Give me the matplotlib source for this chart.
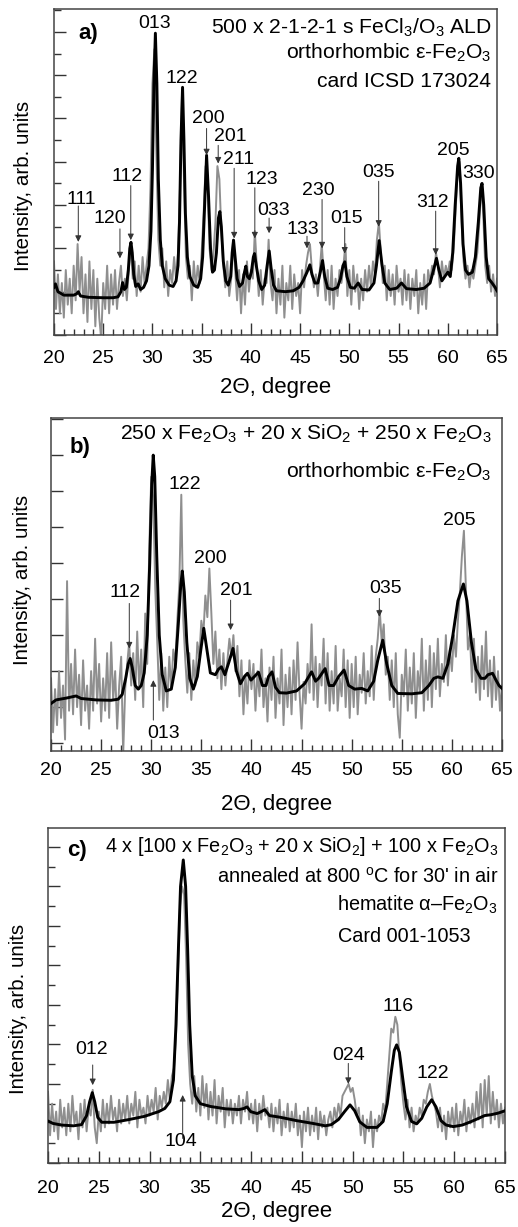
import numpy as np
import matplotlib.pyplot as plt

plt.rcParams['font.family'] = ['Liberation Sans', 'DejaVu Sans']
plt.rcParams['mathtext.fontset'] = 'custom'
plt.rcParams['mathtext.rm'] = 'Liberation Sans'
plt.rcParams['mathtext.it'] = 'Liberation Sans'
plt.rcParams['mathtext.bf'] = 'Liberation Sans:bold'

# scan grid, 2theta in degrees (0.2 deg step)
two_theta = np.round(np.arange(20, 65.01, 0.2), 1)

# ---- a) 500 x 2-1-2-1 s FeCl3/O3 ALD ----
raw_a = [1.7, 0.6, 1.4, 0.5, 1.2, 0.4, 1.5, 0.7, 1.3, 0.5,
         1.6, 0.8, 2.1, 1.0, 1.8, 0.5, 1.4, 0.3, 1.7, 0.6,
         1.5, 0.2, 1.3, 0.4, -0.1, 1.2, 0.6, 1.6, 0.5, 1.4,
         0.7, 1.5, 0.6, 1.2, 1.6, 0.9, 1.3, 0.8, 1.5, 2.1,
         1.3, 1.7, 0.9, 1.6, 1.0, 1.8, 1.2, 1.6, 2.0, 3.4,
         5.8, 6.6, 4.2, 2.2, 1.6, 2.0, 1.1, 1.7, 0.9, 1.5,
         1.2, 1.8, 1.3, 1.9, 3.4, 5.5, 3.6, 1.8, 1.3, 1.6,
         0.8, 1.7, 1.1, 1.6, 1.2, 1.9, 2.8, 3.9, 3.5, 2.0,
         1.5, 1.9, 2.6, 3.9, 3.6, 2.4, 1.6, 1.1, 1.7, 0.9,
         1.3, 2.2, 1.5, 0.8, 1.5, 0.5, 1.4, 0.7, 1.7, 1.0,
         1.5, 1.3, 2.4, 1.6, 0.9, 1.5, 0.7, 1.3, 1.2, 2.2,
         1.2, 0.8, 1.5, 0.5, 1.3, 0.7, 1.6, 0.4, 1.2, 0.8,
         1.6, 0.6, 1.4, 0.9, 1.2, 0.5, 1.5, 1.1, 1.6, 1.9,
         2.1, 1.5, 1.1, 1.4, 0.9, 1.5, 2.1, 1.4, 0.8, 1.5,
         0.7, 1.6, 0.6, 1.3, 0.9, 1.5, 1.2, 1.6, 2.1, 0.9,
         1.5, 0.7, 1.6, 1.0, 1.4, 0.6, 1.3, 0.8, 1.5, 1.0,
         1.6, 1.1, 1.7, 1.4, 2.2, 2.6, 1.9, 1.2, 1.6, 0.8,
         1.5, 0.9, 1.4, 0.7, 1.6, 1.0, 1.3, 0.7, 1.5, 0.8,
         1.4, 0.6, 1.3, 0.9, 1.5, 0.5, 1.2, 0.7, 1.4, 0.6,
         1.5, 1.2, 1.6, 1.4, 1.9, 1.6, 1.1, 1.7, 1.3, 1.6,
         1.4, 1.7, 1.5, 2.0, 2.9, 3.8, 4.0, 2.6, 1.7, 1.3,
         1.6, 1.1, 1.5, 1.3, 1.6, 1.9, 2.6, 3.5, 2.8, 1.6,
         1.2, 1.6, 1.0, 1.4, 0.9, 1.3]
fit_a_x = [20.0, 20.15, 20.4, 21.0, 22.0, 22.3, 22.47, 22.7, 23.5, 25.0, 26.0, 26.5,
           26.8, 26.97, 27.15, 27.35, 27.55, 27.7, 27.82, 27.95, 28.1, 28.3, 28.55, 28.8,
           29.1, 29.4, 29.65, 29.85, 30.0, 30.15, 30.3, 30.45, 30.6, 30.8, 31.0, 31.3,
           31.7, 32.1, 32.4, 32.6, 32.75, 32.9, 33.06, 33.2, 33.35, 33.55, 33.8, 34.2,
           34.6, 34.9, 35.1, 35.3, 35.5, 35.7, 35.9, 36.1, 36.3, 36.5, 36.7, 36.85,
           37.0, 37.2, 37.45, 37.7, 37.95, 38.1, 38.24, 38.4, 38.6, 38.85, 39.15, 39.35,
           39.49, 39.65, 39.85, 40.05, 40.25, 40.37, 40.55, 40.8, 41.1, 41.4, 41.65, 41.86,
           42.05, 42.3, 42.6, 43.5, 44.3, 44.9, 45.3, 45.7, 45.99, 46.2, 46.5, 46.8,
           47.05, 47.28, 47.5, 47.8, 48.3, 48.8, 49.1, 49.35, 49.54, 49.75, 50.1, 50.5,
           50.9, 51.3, 52.0, 52.5, 52.75, 53.03, 53.3, 53.6, 54.1, 54.8, 55.3, 55.8,
           56.8, 57.6, 58.2, 58.55, 58.85, 59.1, 59.4, 59.7, 60.0, 60.25, 60.5, 60.75,
           61.0, 61.12, 61.3, 61.55, 61.8, 62.1, 62.5, 62.8, 63.1, 63.35, 63.48, 63.65,
           63.9, 64.15, 64.5, 64.8, 65.0]
fit_a_y = [1.10, 1.18, 1.0, 0.92, 0.92, 0.95, 1.0, 0.9, 0.87, 0.86, 0.86, 0.88,
           1.0, 1.21, 1.05, 1.1, 1.5, 2.0, 2.14, 1.9, 1.4, 1.12, 1.18, 1.05,
           1.1, 1.25, 1.6, 2.4, 3.8, 5.8, 6.97, 5.8, 3.6, 2.2, 1.6, 1.3,
           1.15, 1.12, 1.25, 1.6, 2.6, 4.5, 5.72, 4.5, 2.8, 1.8, 1.35, 1.15,
           1.1, 1.3, 1.8, 3.0, 4.15, 3.2, 2.0, 1.45, 1.5, 1.9, 2.7, 2.85,
           2.5, 1.7, 1.25, 1.15, 1.35, 1.9, 2.19, 1.8, 1.3, 1.12, 1.2, 1.45,
           1.59, 1.35, 1.3, 1.45, 1.8, 1.88, 1.6, 1.25, 1.05, 1.15, 1.6, 1.94,
           1.55, 1.15, 1.02, 1.0, 1.02, 1.1, 1.25, 1.45, 1.62, 1.4, 1.2, 1.2,
           1.45, 1.72, 1.35, 1.08, 1.05, 1.1, 1.3, 1.6, 1.69, 1.35, 1.1, 1.08,
           1.2, 1.05, 1.04, 1.2, 1.6, 2.18, 1.65, 1.2, 1.05, 1.08, 1.2, 1.07,
           1.05, 1.08, 1.2, 1.5, 1.77, 1.5, 1.25, 1.35, 1.45, 1.35, 1.9, 3.0,
           3.9, 4.08, 3.5, 2.1, 1.5, 1.4, 1.45, 1.8, 2.6, 3.4, 3.5, 3.0,
           1.8, 1.3, 1.2, 1.1, 1.02]

# ---- b) 250 x Fe2O3 + 20 x SiO2 + 250 x Fe2O3 ----
raw_b = [1.8, 0.3, 1.5, 0.5, 2.0, 0.7, 1.6, 0.1, 4.5, 0.9,
         2.2, 0.8, 2.6, 1.0, 1.9, 0.5, 2.3, 0.9, 1.6, 0.4,
         2.0, 0.9, 2.9, 1.1, 2.2, 0.6, 1.8, 0.9, 2.5, 0.7,
         2.8, 1.2, 2.0, 0.4, 1.6, 2.4, -0.3, 1.5, 2.2, 2.8,
         1.6, 2.5, 1.2, 3.1, 1.5, 2.6, 1.0, 3.6, 2.2, 5.4,
         7.4, 6.8, 4.3, 2.8, 1.2, 2.5, 0.9, 2.1, 1.0, 2.4,
         1.5, 2.6, 2.2, 3.4, 4.4, 6.9, 3.4, 2.3, 1.4, 2.5,
         1.2, 2.3, 1.6, 2.8, 2.4, 3.4, 3.0, 4.1, 3.5, 4.85,
         3.6, 2.2, 3.1, 1.8, 2.6, 1.5, 2.5, 1.6, 2.3, 2.9,
         2.4, 3.0, 2.0, 2.7, 1.3, 2.3, 0.8, 1.9, 1.1, 2.3,
         1.5, 2.2, 0.9, 2.0, 1.3, 2.6, 1.0, 1.8, 0.6, 2.1,
         1.2, 2.4, 0.7, 1.8, 1.1, 2.6, 0.5, 1.9, 1.0, 2.1,
         0.8, 2.3, 1.2, 2.8, 1.4, 0.4, 1.7, 1.1, 2.2, 1.4,
         3.3, 1.2, 2.4, 1.0, 2.2, 1.6, 2.9, 1.1, 2.5, 0.9,
         2.0, 1.1, 2.7, 0.9, 1.8, 1.3, 2.6, 1.0, 2.3, 0.7,
         2.2, 1.0, 2.4, 0.8, 1.9, 1.4, 2.5, 1.1, 2.0, 1.3,
         2.7, 1.2, 2.4, 2.9, 3.7, 2.8, 3.3, 1.9, 2.4, 1.2,
         2.3, 1.0, 2.5, 0.8, 0.15, 1.9, 1.3, 2.6, 0.9, 2.1,
         1.1, 2.5, 0.7, 2.0, 1.4, 2.9, 0.9, 2.3, 1.2, 2.7,
         1.0, 2.5, 1.5, 2.9, 1.3, 2.2, 1.7, 3.0, 1.6, 2.6,
         2.0, 3.0, 2.4, 3.4, 4.2, 5.2, 5.9, 4.3, 2.6, 3.0,
         1.7, 2.9, 1.4, 2.4, 1.2, 2.7, 1.5, 3.1, 1.3, 2.3,
         1.0, 2.4, 1.2, 2.0, 0.9, 1.6]
fit_b_x = [20.0, 20.5, 21.5, 22.5, 23.0, 24.5, 26.0, 26.7, 27.1, 27.45, 27.7, 27.9,
           28.1, 28.4, 28.7, 29.0, 29.3, 29.6, 29.85, 30.05, 30.2, 30.35, 30.55, 30.8,
           31.1, 31.5, 32.0, 32.4, 32.7, 32.95, 33.1, 33.3, 33.55, 33.85, 34.2, 34.6,
           34.95, 35.24, 35.5, 35.9, 36.4, 36.7, 37.0, 37.35, 37.75, 38.16, 38.5, 38.9,
           39.3, 39.6, 39.95, 40.3, 40.7, 41.1, 41.45, 41.7, 42.05, 42.4, 42.8, 43.5,
           44.5, 45.3, 46.0, 46.4, 46.7, 47.35, 47.75, 48.2, 48.7, 49.24, 49.7, 50.3,
           51.0, 51.6, 52.2, 52.6, 53.1, 53.5, 54.0, 54.6, 56.0, 57.0, 57.7, 58.2,
           58.6, 59.1, 59.6, 60.1, 60.6, 61.15, 61.5, 61.95, 62.4, 62.9, 63.3, 63.6,
           64.06, 64.4, 64.7, 65.0]
fit_b_y = [1.10, 1.2, 1.25, 1.31, 1.24, 1.2, 1.19, 1.22, 1.35, 1.8, 2.2, 2.35,
           2.1, 1.6, 1.5, 1.6, 1.95, 3.0, 5.0, 7.2, 8.0, 7.4, 5.2, 3.0,
           1.9, 1.45, 1.5, 2.1, 3.3, 4.4, 4.78, 4.2, 2.8, 1.8, 1.5, 1.85,
           2.6, 3.19, 2.7, 1.95, 1.9, 2.05, 2.12, 1.9, 2.25, 2.63, 2.0, 1.65,
           1.85, 1.94, 1.75, 1.85, 1.97, 1.6, 1.6, 1.85, 1.98, 1.55, 1.4, 1.39,
           1.45, 1.65, 1.98, 1.72, 1.8, 2.07, 1.6, 1.6, 1.85, 2.03, 1.6, 1.5,
           1.52, 1.45, 1.72, 2.3, 2.86, 2.2, 1.6, 1.38, 1.37, 1.4, 1.6, 1.8,
           1.84, 1.8, 2.2, 3.0, 3.95, 4.42, 3.95, 2.8, 2.05, 1.8, 1.8, 1.9,
           1.94, 1.75, 1.6, 1.52]

# ---- c) 4 x [100 x Fe2O3 + 20 x SiO2] + 100 x Fe2O3, annealed ----
raw_c = [1.8, 0.7, 1.5, 0.8, 1.3, 0.6, 1.6, 0.9, 1.4, 0.7,
         1.5, 0.8, 1.7, 1.0, 1.3, 0.6, 1.5, 0.9, 1.6, 0.8,
         1.4, 1.2, 1.85, 0.9, 0.5, 1.3, 0.8, 1.6, 0.9, 1.5,
         1.0, 1.7, 1.1, 1.4, 0.8, 1.6, 1.0, 1.5, 1.1, 1.7,
         1.0, 1.5, 1.2, 1.8, 0.9, 1.6, 1.2, 1.4, 1.0, 1.7,
         1.2, 1.6, 1.3, 1.9, 1.1, 1.7, 1.4, 1.8, 1.5, 2.1,
         1.6, 2.2, 2.4, 3.2, 4.8, 6.5, 7.0, 6.8, 5.2, 3.0,
         2.0, 1.5, 2.2, 1.3, 1.9, 1.2, 2.2, 1.4, 2.0, 1.1,
         1.8, 1.2, 2.1, 1.0, 1.7, 1.3, 1.9, 0.9, 1.6, 1.2,
         1.6, 1.0, 1.5, 1.2, 1.7, 1.0, 1.6, 1.3, 1.8, 1.1,
         1.5, 1.0, 1.6, 0.8, 1.5, 1.1, 1.7, 1.2, 1.4, 0.9,
         1.5, 0.8, 1.4, 1.0, 1.6, 0.7, 1.3, 0.9, 1.5, 0.8,
         1.3, 0.9, 1.5, 0.7, 1.2, 0.4, 1.3, 0.8, 1.4, 0.7,
         1.2, 0.8, 1.4, 0.6, 1.3, 0.9, 1.2, 0.7, 1.1, 1.3,
         0.9, 1.4, 1.1, 1.5, 1.2, 1.7, 1.8, 1.9, 2.0, 1.8,
         1.9, 1.6, 1.2, 1.4, 0.7, 1.2, 0.5, 1.1, 0.8, 1.3,
         0.4, 1.1, 0.8, 1.2, 1.0, 1.5, 1.3, 2.0, 2.7, 3.4,
         3.3, 3.7, 3.5, 2.7, 2.0, 1.5, 1.1, 1.6, 0.9, 1.4,
         0.8, 1.2, 1.0, 1.4, 1.2, 1.6, 1.5, 1.8, 2.0, 1.7,
         1.5, 1.3, 0.9, 1.4, 0.8, 1.2, 0.6, 1.3, 0.9, 1.4,
         0.8, 1.5, 0.7, 1.3, 1.0, 1.6, 0.8, 1.4, 1.0, 1.5,
         0.9, 1.8, 1.1, 2.0, 0.9, 2.1, 1.2, 2.2, 1.0, 1.8,
         1.1, 1.6, 0.9, 1.5, 1.0, 1.4]
fit_c_x = [20.0, 20.5, 21.3, 22.5, 23.3, 23.8, 24.1, 24.36, 24.6, 24.9, 25.3, 26.5,
           28.0, 29.5, 30.9, 31.5, 32.0, 32.35, 32.6, 32.85, 33.05, 33.32, 33.55, 33.75,
           33.95, 34.2, 34.5, 35.0, 36.0, 37.5, 38.8, 39.3, 39.6, 39.95, 40.6, 41.0,
           41.35, 41.8, 42.8, 44.5, 46.1, 47.3, 47.9, 48.6, 49.2, 49.74, 50.2, 50.7,
           51.4, 52.4, 53.0, 53.4, 53.8, 54.1, 54.33, 54.6, 54.9, 55.3, 55.8, 56.3,
           56.8, 57.3, 57.78, 58.2, 58.7, 59.2, 59.9, 60.8, 61.6, 62.4, 63.0, 63.6,
           64.3, 65.0]
fit_c_y = [1.06, 1.0, 0.96, 0.94, 0.97, 1.2, 1.55, 1.78, 1.55, 1.15, 1.03, 1.03,
           1.1, 1.18, 1.3, 1.38, 1.55, 2.1, 3.5, 5.5, 7.0, 7.67, 7.0, 5.4,
           3.5, 2.2, 1.7, 1.5, 1.43, 1.37, 1.35, 1.38, 1.42, 1.3, 1.25, 1.3,
           1.35, 1.2, 1.16, 1.07, 1.0, 0.94, 0.97, 1.1, 1.3, 1.47, 1.32, 1.04,
           0.9, 0.9, 1.05, 1.5, 2.3, 2.85, 2.99, 2.8, 2.2, 1.42, 1.05, 0.99,
           1.13, 1.42, 1.6, 1.42, 1.07, 0.96, 0.92, 0.96, 1.04, 1.13, 1.2, 1.22,
           1.26, 1.32]

# reflection labels (hkl) per panel
hkl_a = ['111', '120', '112', '013', '122', '200', '201', '211', '123',
         '033', '133', '230', '015', '035', '312', '205', '330']
hkl_b = ['112', '013', '122', '200', '201', '035', '205']
hkl_c = ['012', '104', '024', '116', '122']

# label placement: (text x, text y, arrow x, arrow start y, arrow tip y)
place_a = [(22.81, 3.13, 22.47, 2.98, 2.15), (25.65, 2.68, 26.7, 2.45, 1.77),
           (27.44, 3.66, 27.8, 3.45, 2.19), (30.18, 7.19, None, None, None),
           (33.02, 5.92, None, None, None), (35.70, 5.0, 35.5, 4.77, 4.15),
           (37.93, 4.58, 36.68, 4.38, 3.96), (38.71, 4.05, 38.3, 3.85, 2.23),
           (41.11, 3.58, 40.4, 3.4, 2.23), (42.33, 2.87, 41.85, 2.7, 2.35),
           (45.30, 2.44, 45.7, 2.28, 2.0), (46.83, 3.33, 47.23, 3.13, 2.0),
           (49.67, 2.68, 49.53, 2.48, 1.88), (52.92, 3.75, 52.98, 3.55, 2.5),
           (58.43, 3.06, 58.77, 2.86, 1.85), (60.53, 4.27, None, None, None),
           (63.1, 3.72, None, None, None)]
place_b = [(27.38, 4.18, 27.81, 3.88, 2.63), (31.21, 0.27, 30.21, 0.64, 1.75),
           (33.37, 7.19, None, None, None), (35.86, 5.13, None, None, None),
           (38.46, 4.25, 37.92, 3.97, 3.14), (53.42, 4.30, 52.76, 4.02, 3.51),
           (60.74, 6.19, None, None, None)]
place_c = [(24.3, 2.86, 24.4, 2.48, 1.97), (33.06, 0.54, 33.26, 0.62, 1.72),
           (49.6, 2.73, 49.57, 2.52, 2.0), (54.43, 3.96, None, None, None),
           (57.94, 2.27, None, None, None)]

titles_a = ['500 x 2-1-2-1 s FeCl$_3$/O$_3$ ALD',
            'orthorhombic ε-Fe$_2$O$_3$',
            'card ICSD 173024']
titles_b = ['250 x Fe$_2$O$_3$ + 20 x SiO$_2$ + 250 x Fe$_2$O$_3$',
            'orthorhombic ε-Fe$_2$O$_3$']
titles_c = ['4 x [100 x Fe$_2$O$_3$ + 20 x SiO$_2$] + 100 x Fe$_2$O$_3$',
            "annealed at 800 $^{\\mathrm{o}}$C for 30' in air",
            'hematite α–Fe$_2$O$_3$',
            'Card 001-1053']

FS = 14
fig = plt.figure(figsize=(5.18, 12.27), dpi=100)

panels = [
    # rect, raw, fit x, fit y, hkl, placement, ylim, major, minor, letter pos, tick pad, xlabel y, ylabel pos
    ([0.1042, 0.7270, 0.8553, 0.2657], raw_a, fit_a_x, fit_a_y, hkl_a, place_a,
     (0, 7.53), 1, 0.5, ('a)', 0.077, 0.925), 10.5, -0.129, (-0.047, 0.457)),
    ([0.0985, 0.3879, 0.8706, 0.2714], raw_b, fit_b_x, fit_b_y, hkl_b, place_b,
     (-0.22, 9.03), 1, None, ('b)', 0.064, 0.912), 8.0, -0.129, (-0.043, 0.514)),
    ([0.0927, 0.0522, 0.8822, 0.2730], raw_c, fit_c_x, fit_c_y, hkl_c, place_c,
     (0, 8.48), 1, 0.5, ('c)', 0.064, 0.934), 12.0, -0.113, (-0.043, 0.46)),
]

axes = []
for rect, raw, fx, fy, hkl, place, ylim, major, minor, letter, pad, xly, yl in panels:
    ax = fig.add_axes(rect)
    ax.plot(two_theta, raw, color='#8f8f8f', lw=1.4, zorder=2)
    ax.plot(fx, fy, color='black', lw=2.1, zorder=3)
    ax.set_xlim(20, 65)
    ax.set_ylim(*ylim)
    ax.set_xticks(np.arange(20, 66, 5))
    ax.set_xticks(np.arange(20, 66, 1), minor=True)
    ax.set_yticks(np.arange(0, ylim[1], major))
    if minor:
        ax.set_yticks(np.arange(0, ylim[1], minor), minor=True)
    ax.set_yticklabels([])
    ax.tick_params(axis='both', which='both', direction='in', top=False, right=False,
                   colors='#333333')
    ax.tick_params(axis='x', which='major', length=8.5, width=1, labelsize=FS,
                   labelcolor='black', pad=pad)
    ax.tick_params(axis='x', which='minor', length=4, width=1)
    ax.tick_params(axis='y', which='major', length=8.5, width=1)
    ax.tick_params(axis='y', which='minor', length=5, width=1)
    for s in ax.spines.values():
        s.set_color('#444444')
        s.set_linewidth(1.1)
    ax.set_xlabel('2Θ, degree', fontsize=16)
    ax.xaxis.set_label_coords(0.5, xly)
    ax.set_ylabel('Intensity, arb. units', fontsize=14.8)
    ax.yaxis.set_label_coords(*yl)
    ax.text(letter[1], letter[2], letter[0], transform=ax.transAxes, fontsize=16,
            fontweight='bold', ha='center', va='center')
    for lab, (tx, ty, axx, ay0, ay1) in zip(hkl, place):
        ax.text(tx, ty, lab, fontsize=FS, ha='center', va='center', zorder=4)
        if axx is not None:
            ax.annotate('', xy=(axx, ay1), xytext=(axx, ay0),
                        arrowprops=dict(arrowstyle='-|>', color='#333333', lw=0.7,
                                        mutation_scale=9, shrinkA=0, shrinkB=0),
                        zorder=4)
    axes.append(ax)

ax_a, ax_b, ax_c = axes
for t, yy in zip(titles_a, [0.941, 0.864, 0.777]):
    ax_a.text(0.987, yy, t, transform=ax_a.transAxes, fontsize=15.2, ha='right', va='center')
for t, yy in zip(titles_b, [0.954, 0.839]):
    ax_b.text(0.977, yy, t, transform=ax_b.transAxes, fontsize=15.2, ha='right', va='center')
for t, yy in zip(titles_c[:3], [0.944, 0.855, 0.770]):
    ax_c.text(0.985, yy, t, transform=ax_c.transAxes, fontsize=14.3, ha='right', va='center')
ax_c.text(0.635, 0.676, titles_c[3], transform=ax_c.transAxes, fontsize=14.3,
          ha='left', va='center')

fig.savefig('out.png', dpi=100)
